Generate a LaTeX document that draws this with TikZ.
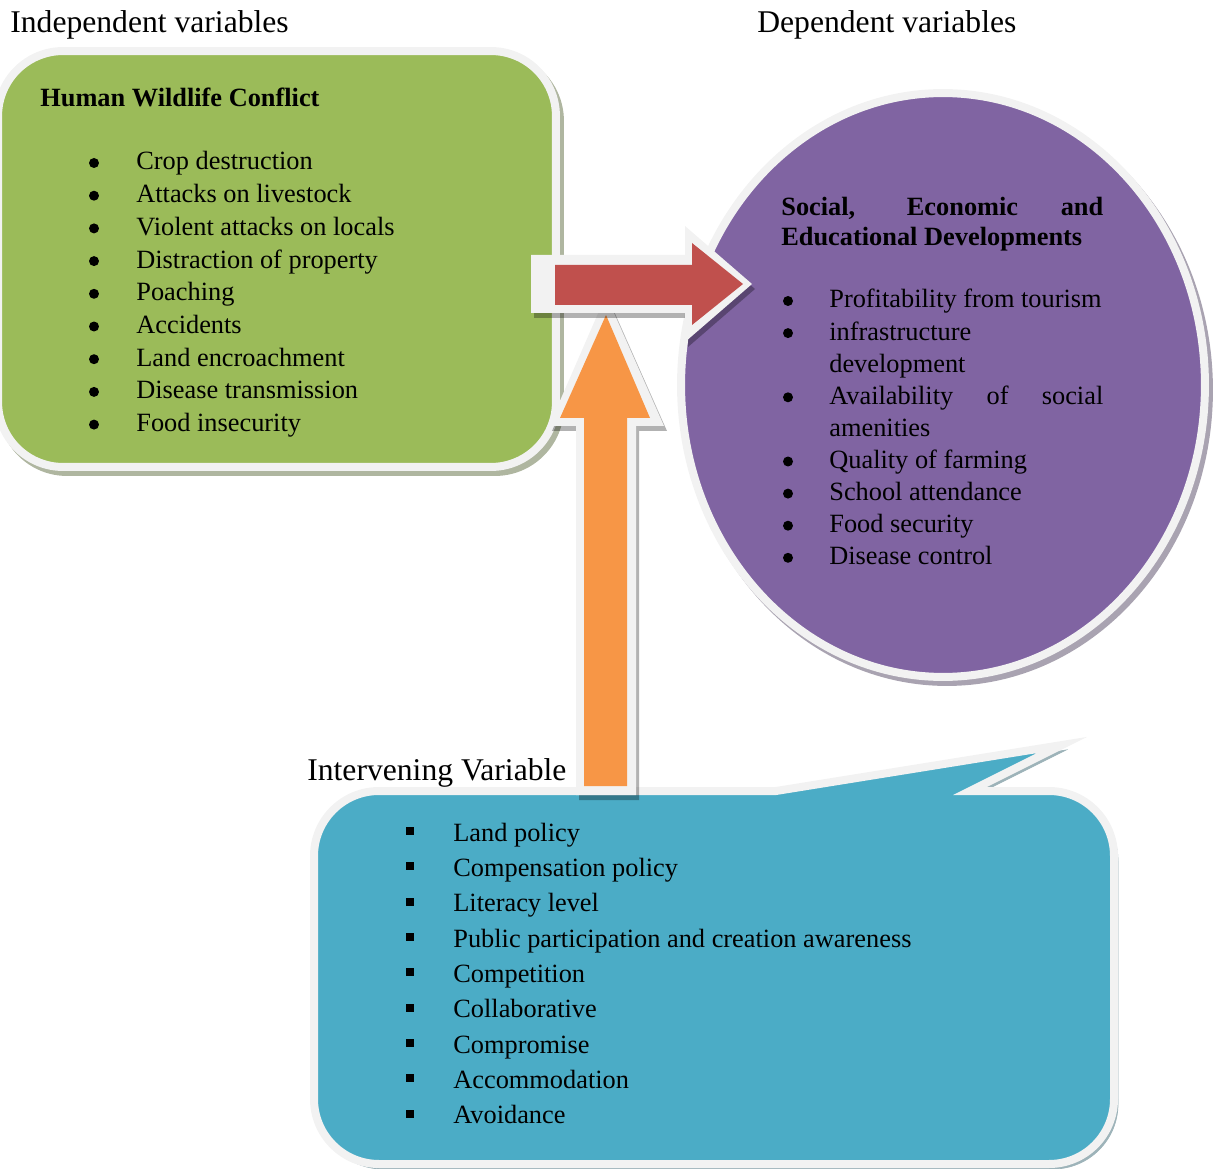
\documentclass[tikz,border=0pt]{standalone}
\usepackage{fontspec}
\setmainfont{Liberation Serif}
\definecolor{hwcGreen}{HTML}{9BBB59}
\definecolor{sedPurple}{HTML}{8064A2}
\definecolor{ivBlue}{HTML}{4BACC6}
\definecolor{arRed}{HTML}{C0504D}
\definecolor{arOrange}{HTML}{F79646}
\definecolor{rimGray}{HTML}{F2F2F2}
\usetikzlibrary{shapes.geometric}

\begin{document}
\begin{tikzpicture}[x=0.02cm, y=-0.02cm,
  every node/.style={inner sep=0pt, font=\fontsize{15}{18}\selectfont},
  rim/.style={draw=rimGray, line width=0.16cm},
  drop/.style={preaction={draw=#1, fill=#1, transform canvas={xshift=0.08cm, yshift=-0.1cm}}},
  adrop/.style={preaction={fill=black, opacity=0.3, transform canvas={xshift=0.06cm, yshift=-0.1cm}}},
  listtext/.style={anchor=base west},
  headtext/.style={anchor=base west, font=\fontsize{15}{18}\selectfont\bfseries},
  bull/.style={circle, fill=black, minimum size=0.2cm},
  sqbull/.style={fill=black, minimum size=0.16cm},
  vartitle/.style={anchor=base west, font=\fontsize{18}{21}\selectfont}]
  \useasboundingbox (0,0) rectangle (1218,1169);
  % Column titles
  \node[vartitle] (tIndep) at (10,33) {Independent variables};
  \node[vartitle] (tDep) at (757,33) {Dependent variables};
  \node[vartitle] (tInter) at (307,780) {Intervening Variable};
  % Boxes
  \node[rim, drop=hwcGreen!50!black!45, fill=hwcGreen, rounded corners=1.3cm,
        minimum width=11.16cm, minimum height=8.32cm] (hwc) at (277,259) {};
  \node[ellipse, rim, drop=sedPurple!50!black!45, fill=sedPurple,
        minimum width=10.48cm, minimum height=11.68cm] (sed) at (943,385) {};
  \path[rim, drop=ivBlue!50!black!45, fill=ivBlue] (600,791) -- (776,791) -- (1062,745)
    -- (970,791) -- (980,791) [rounded corners=1.3cm] -- (1114,791) -- (1114,1164)
    -- (314,1164) -- (314,791) -- cycle;
  % Block arrows
  \fill[rimGray, adrop] (606,295) -- (664,426) -- (636,426) -- (636,795) -- (576,795)
    -- (576,426) -- (549,426) -- cycle;
  \fill[arOrange] (606,315) -- (650,418) -- (627,418) -- (627,786) -- (584,786)
    -- (584,418) -- (560,418) -- cycle;
  \fill[rimGray, adrop] (531,255) -- (685,255) -- (685,226) -- (752,284) -- (685,342)
    -- (685,313) -- (531,313) -- cycle;
  \fill[arRed] (555,265) -- (692,265) -- (692,243) -- (743,284) -- (692,325)
    -- (692,305) -- (555,305) -- cycle;
  % Independent variables
  \node[headtext] (hwcHead) at (40,107) {Human Wildlife Conflict};
  \foreach \t [count=\i from 0] in {Crop destruction, Attacks on livestock,
      Violent attacks on locals, Distraction of property, Poaching, Accidents,
      Land encroachment, Disease transmission, Food insecurity} {
    \node[bull] (hb\i) at (94,163+32.7*\i) {};
    \node[listtext] (ht\i) at (136,170+32.7*\i) {\t};
  }
  % Dependent variables
  \node[headtext] (sedHead1) at (781,216) {\makebox[6.44cm][s]{Social, Economic and}};
  \node[headtext] (sedHead2) at (781,246) {Educational Developments};
  \foreach \k in {0,1,3,5,6,7,8}
    \node[bull] (sb\k) at (788,301+32.1*\k) {};
  \foreach \k/\t in {0/Profitability from tourism, 1/infrastructure, 2/development,
      3/{\makebox[5.48cm][s]{Availability of social}}, 4/amenities,
      5/Quality of farming, 6/School attendance, 7/Food security, 8/Disease control}
    \node[listtext] (st\k) at (829,308+32.1*\k) {\t};
  % Intervening variables
  \foreach \t [count=\i from 0] in {Land policy, Compensation policy, Literacy level,
      Public participation and creation awareness, Competition, Collaborative,
      Compromise, Accommodation, Avoidance} {
    \node[sqbull] (ib\i) at (410,831+35.35*\i) {};
    \node[listtext] (it\i) at (453,841+35.35*\i) {\t};
  }
\end{tikzpicture}
\end{document}
